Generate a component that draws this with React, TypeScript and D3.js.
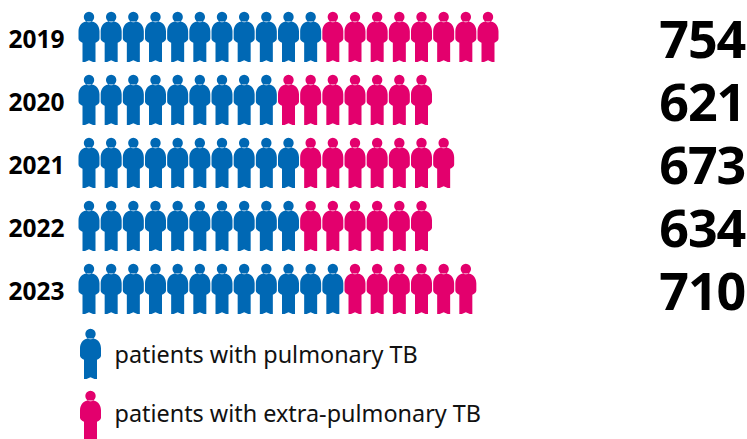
import React from "react";
import * as d3 from "d3";

const years = ["2019", "2020", "2021", "2022", "2023"];
const totals = [754, 621, 673, 634, 710];
const pulmonaryIcons = [11, 9, 10, 10, 12];
const extraIcons = [8, 7, 7, 6, 6];
const legendLabels = ["patients with pulmonary TB", "patients with extra-pulmonary TB"];
const BLUE = "#0068b4";
const PINK = "#e3006d";
const FONT = "'Noto Sans','Open Sans',sans-serif";

const x = d3.scaleLinear().domain([0, 18]).range([89, 488]);
const y = d3.scalePoint<string>().domain(years).range([11, 263]);

function iconPath() {
  const p = d3.path();
  p.moveTo(5.2, 6);
  p.arc(0, 6, 5.2, 0, Math.PI * 2);
  p.closePath();
  p.moveTo(-3, 10.5);
  p.bezierCurveTo(-8, 11.5, -10.5, 15.5, -10.5, 20.5);
  p.lineTo(-10.5, 27.5);
  p.bezierCurveTo(-10.5, 29.5, -8.5, 31, -6.5, 31.8);
  p.lineTo(-6.5, 51);
  p.lineTo(-4, 51);
  p.lineTo(0, 49.2);
  p.lineTo(4, 51);
  p.lineTo(6.5, 51);
  p.lineTo(6.5, 31.8);
  p.bezierCurveTo(8.5, 31, 10.5, 29.5, 10.5, 27.5);
  p.lineTo(10.5, 20.5);
  p.bezierCurveTo(10.5, 15.5, 8, 11.5, 3, 10.5);
  p.closePath();
  return p.toString();
}
const ICON = iconPath();

export default function App() {
  return (
    <svg width={747} height={439} style={{ position: "absolute", left: 0, top: 0, display: "block" }}>
      {years.map((yr, r) => {
        const top = y(yr)!;
        const n = pulmonaryIcons[r] + extraIcons[r];
        return (
          <g key={yr}>
            <text x={8.5} y={top + 37} fontFamily={FONT} fontWeight={700} fontSize={24.5} fill="#000">{yr}</text>
            {d3.range(n).map((i) => (
              <path key={i} d={ICON} transform={`translate(${x(i)},${top})`} fill={i < pulmonaryIcons[r] ? BLUE : PINK} />
            ))}
            <text x={745} y={top + 47} textAnchor="end" fontFamily={FONT} fontWeight={700} fontSize={52} letterSpacing={-1.2} fill="#000">{totals[r]}</text>
          </g>
        );
      })}
      {legendLabels.map((l, i) => {
        const top = 328 + i * 62;
        return (
          <g key={l}>
            <path d={ICON} transform={`translate(90.5,${top})`} fill={i === 0 ? BLUE : PINK} />
            <text x={114.5} y={top + 35 - i * 3} fontFamily={FONT} fontSize={23.4} fill="#111">{l}</text>
          </g>
        );
      })}
    </svg>
  );
}
